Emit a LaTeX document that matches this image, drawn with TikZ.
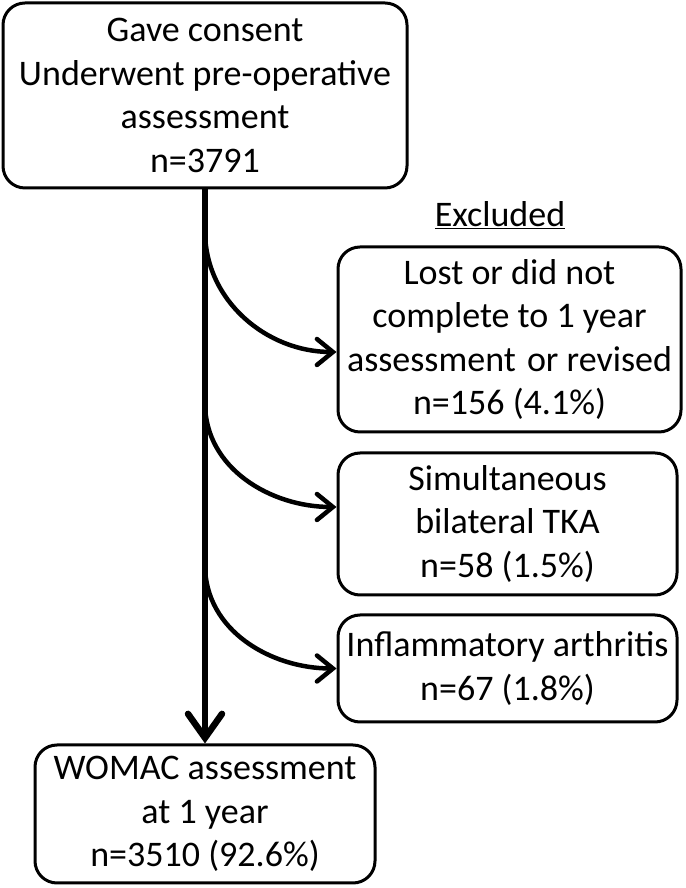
\documentclass[tikz,border=0pt]{standalone}
\usepackage{fontspec}
\setmainfont{Carlito}
\usetikzlibrary{arrows.meta}
\begin{document}
\begin{tikzpicture}[x=1pt,y=1pt,
  box/.style={draw=black,line width=3pt,rounded corners=22pt,align=center,inner sep=0pt,
    font=\fontsize{36}{43.5}\selectfont},
  mainarrow/.style={line width=6.5pt,-{Straight Barb[length=24pt,width=34pt,line cap=round]}},
  curvearrow/.style={line width=4.5pt,-{Straight Barb[length=16pt,width=26pt,line cap=round]}}
]
\useasboundingbox (0,0) rectangle (685,888);
\node[box,minimum width=404,minimum height=185] (top) at (205,792.5)
  {Gave consent\\Underwent pre-operative\\assessment\\n=3791};
\node[font=\fontsize{36}{43.5}\selectfont,inner sep=1pt,anchor=base] (exclabel) at (500,661) {\underline{Excluded}};
\node[box,minimum width=343,minimum height=185] (b1) at (509.5,548.5)
  {Lost or did not\\complete to 1 year\\assessment\kern3pt{} or revised\\n=156 (4.1\%)};
\node[box,minimum width=339,minimum height=142] (b2) at (507.5,364)
  {Simultaneous\\bilateral TKA\\n=58 (1.5\%)};
\node[box,minimum width=339,minimum height=107] (b3) at (507.5,219.5)
  {Inflammatory arthritis\\n=67 (1.8\%)};
\node[box,minimum width=340,minimum height=138] (bot) at (205,74)
  {WOMAC assessment\\at 1 year\\n=3510 (92.6\%)};
\coordinate (s1) at (205,657);
\coordinate (s2) at (205,485);
\coordinate (s3) at (205,323);
\draw[mainarrow] (top.south) -- (bot.north);
\draw[curvearrow] (s1) to[out=-90,in=180] ([yshift=-12.5]b1.west);
\draw[curvearrow] (s2) to[out=-90,in=180] ([yshift=17]b2.west);
\draw[curvearrow] (s3) to[out=-90,in=180] (b3.west);
\end{tikzpicture}
\end{document}
